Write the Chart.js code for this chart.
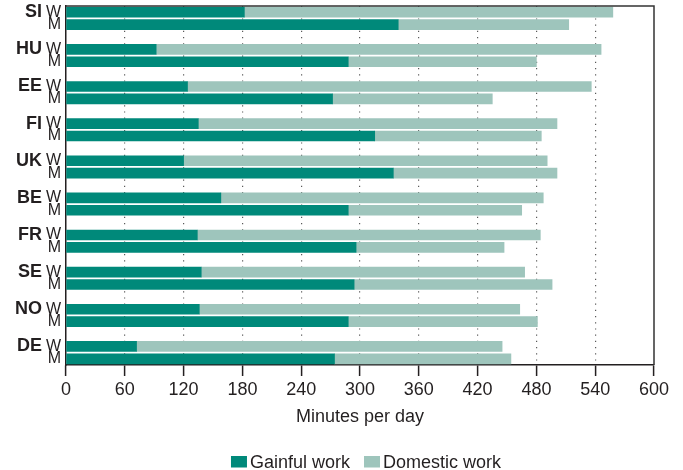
<!DOCTYPE html>
<html>
<head>
<meta charset="utf-8">
<script src="https://cdn.jsdelivr.net/npm/chart.js@4.4.0/dist/chart.umd.min.js"></script>
<style>
    html, body { margin: 0; padding: 0; background: #fff; }
</style>
</head>
<body>
<canvas id="workChart" width="683" height="470"></canvas>
<script>
// Minutes per day, women (W) and men (M)
const countries = ['SI', 'HU', 'EE', 'FI', 'UK', 'BE', 'FR', 'SE', 'NO', 'DE'];
const gainfulW = [182, 92, 124, 135, 120, 158, 134, 138, 136, 72];
const domesticW = [376, 454, 412, 366, 371, 329, 350, 330, 327, 373];
const gainfulM = [339, 288, 272, 315, 334, 288, 296, 294, 288, 274];
const domesticM = [174, 192, 163, 170, 167, 177, 151, 202, 193, 180];
const xTicks = [0, 60, 120, 180, 240, 300, 360, 420, 480, 540, 600];

const darkTeal = '#00897a';
const lightTeal = '#9ec5bc';
const ink = '#231f20';
const fontFamily = "'Liberation Sans', Arial, Helvetica, sans-serif";

// rows: W, M and an empty spacer between countries
const rowLabels = [];
const gainful = [];
const domestic = [];
countries.forEach((c, i) => {
    rowLabels.push(c + '|W'); gainful.push(gainfulW[i]); domestic.push(domesticW[i]);
    rowLabels.push(c + '|M'); gainful.push(gainfulM[i]); domestic.push(domesticM[i]);
    if (i < countries.length - 1) {
        rowLabels.push(c + '|'); gainful.push(null); domestic.push(null);
    }
});

const decorations = {
    id: 'decorations',
    afterDatasetsDraw(chart) {
        const { ctx, chartArea: a } = chart;
        ctx.save();
        ctx.strokeStyle = '#333';
        ctx.lineWidth = 1.5;
        ctx.beginPath();
        ctx.moveTo(a.left, a.top);
        ctx.lineTo(a.right, a.top);
        ctx.lineTo(a.right, a.bottom);
        ctx.stroke();
        ctx.restore();
    },
    afterDraw(chart) {
        const { ctx } = chart;
        const yScale = chart.scales.y;

        // country codes next to the W row
        ctx.save();
        ctx.fillStyle = ink;
        ctx.font = 'bold 18px ' + fontFamily;
        ctx.textAlign = 'right';
        ctx.textBaseline = 'middle';
        countries.forEach(c => {
            const y = yScale.getPixelForValue(rowLabels.indexOf(c + '|W'));
            ctx.fillText(c, 42, y);
        });
        ctx.restore();

        // legend
        ctx.save();
        ctx.font = '18px ' + fontFamily;
        ctx.textBaseline = 'alphabetic';
        ctx.textAlign = 'left';
        const items = chart.data.datasets.map(ds => ({
            text: ds.label, color: ds.backgroundColor, w: ctx.measureText(ds.label).width
        }));
        const box = 16, gap = 3, between = 14;
        const total = items.reduce((s, it) => s + box + gap + it.w, 0) + between * (items.length - 1);
        let x = (chart.chartArea.left + chart.chartArea.right) / 2 + 6 - total / 2;
        items.forEach(it => {
            ctx.fillStyle = it.color;
            ctx.fillRect(x, 456, box, 11.5);
            ctx.fillStyle = ink;
            ctx.fillText(it.text, x + box + gap, 468);
            x += box + gap + it.w + between;
        });
        ctx.restore();
    }
};

const ctx = document.getElementById('workChart').getContext('2d');
new Chart(ctx, {
    type: 'bar',
    data: {
        labels: rowLabels,
        datasets: [{
            label: 'Gainful work',
            data: gainful,
            backgroundColor: darkTeal,
            barThickness: 10
        }, {
            label: 'Domestic work',
            data: domestic,
            backgroundColor: lightTeal,
            barThickness: 10
        }]
    },
    options: {
        indexAxis: 'y',
        responsive: false,
        animation: false,
        layout: { padding: { top: 6, right: 29, bottom: 42, left: 0 } },
        plugins: {
            legend: { display: false },
            tooltip: { enabled: false }
        },
        scales: {
            x: {
                stacked: true,
                min: 0,
                max: 600,
                afterBuildTicks: scale => {
                    scale.ticks = xTicks.map(v => ({ value: v }));
                },
                afterFit: scale => { scale.height = 63; },
                ticks: {
                    color: ink,
                    padding: 3,
                    maxRotation: 0,
                    font: { family: fontFamily, size: 18 }
                },
                grid: {
                    color: c => (c.tick && (c.tick.value === 0 || c.tick.value === 600)) ? 'rgba(0,0,0,0)' : '#5a5a5a',
                    lineWidth: 1.2,
                    tickColor: ink,
                    tickWidth: 1.5,
                    tickLength: 11
                },
                border: { color: ink, width: 1.5, dash: [1.2, 5] },
                title: {
                    display: true,
                    text: 'Minutes per day',
                    color: ink,
                    padding: { top: 0, bottom: 0 },
                    font: { family: fontFamily, size: 18 }
                }
            },
            y: {
                stacked: true,
                afterFit: scale => {
                    scale.width = 66;
                    scale.paddingTop = 0;
                    scale.paddingBottom = 0;
                },
                grid: { display: false, drawTicks: false, tickLength: 0 },
                border: { color: ink, width: 1.5 },
                ticks: {
                    autoSkip: false,
                    padding: 5,
                    color: ink,
                    font: { family: fontFamily, size: 16 },
                    callback: function (value) {
                        return this.getLabelForValue(value).split('|')[1];
                    }
                }
            }
        }
    },
    plugins: [decorations]
});
</script>
</body>
</html>
